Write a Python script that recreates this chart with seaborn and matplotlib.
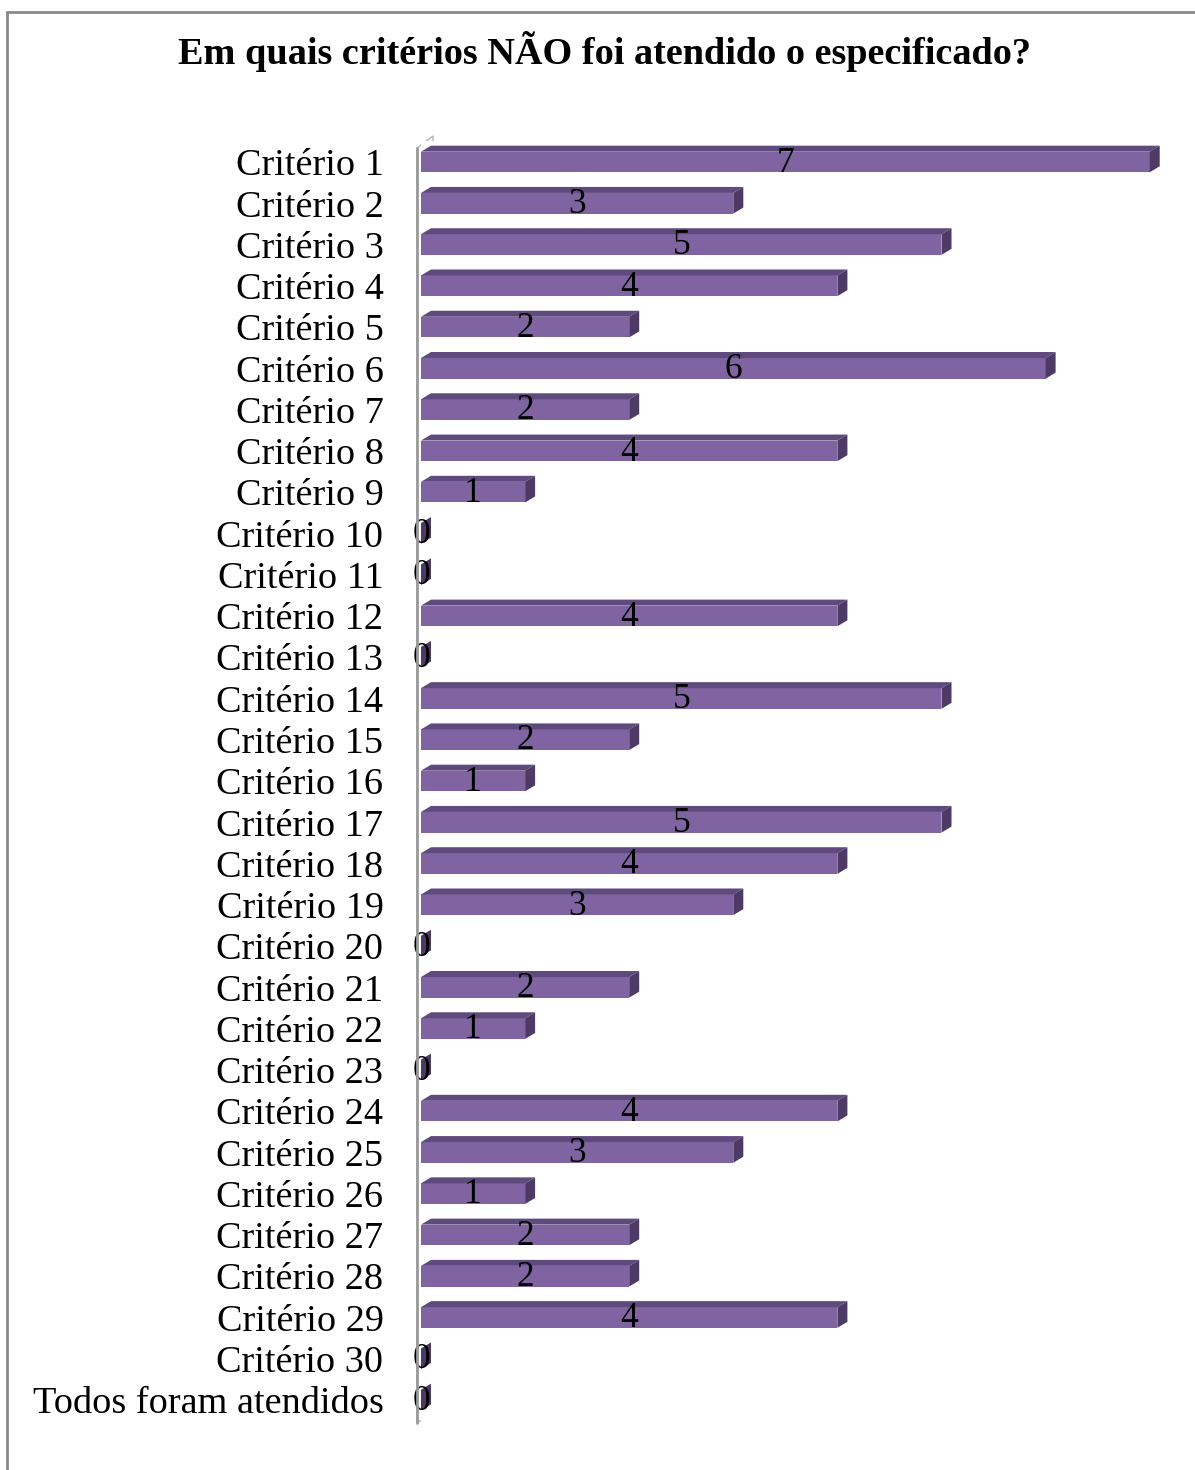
import matplotlib
matplotlib.use("Agg")
import matplotlib.pyplot as plt
from matplotlib.patches import Polygon, Rectangle
from matplotlib.lines import Line2D
import seaborn as sns
import pandas as pd

# data
criterios = [f"Critério {i}" for i in range(1, 31)] + ["Todos foram atendidos"]
valores = [7, 3, 5, 4, 2, 6, 2, 4, 1, 0,
           0, 4, 0, 5, 2, 1, 5, 4, 3, 0,
           2, 1, 0, 4, 3, 1, 2, 2, 4, 0,
           0]
titulo = "Em quais critérios NÃO foi atendido o especificado?"

df = pd.DataFrame({"criterio": criterios, "valor": valores})

sns.set_style("white")
plt.rcParams["font.family"] = ["Liberation Serif", "DejaVu Serif"]
plt.rcParams["text.color"] = "black"
plt.rcParams["ytick.color"] = "black"

W, H = 1195, 1470
fig = plt.figure(figsize=(W / 100, H / 100), dpi=100)

# axes placed so that zero sits at x=421px and rows span 162..1400px
x0_px, row_top, row_bot = 421, 162, 1400
step = (row_bot - row_top) / (len(criterios) - 1)
ax_top = row_top - step / 2
ax_bot = row_bot + step / 2
xmax = 7.3
px_per_unit = 104.1
ax = fig.add_axes([x0_px / W, 1 - ax_bot / H,
                   xmax * px_per_unit / W, (ax_bot - ax_top) / H])

front = "#8064A2"
top_c = "#5F4A7E"
side_c = "#4D3B66"

sns.barplot(data=df, y="criterio", x="valor", orient="h", color=front,
            width=0.5, saturation=1, linewidth=0, ax=ax)
ax.set_xlim(0, xmax)
ax.set_ylim(len(criterios) - 0.5, -0.5)

# fake 3D depth: top face and side face on each bar
dx = 10 / px_per_unit
dy = 6 / step
for p in list(ax.patches):
    bx, by = p.get_x(), p.get_y()
    w, h = p.get_width(), p.get_height()
    top, bot = by, by + h
    ax.add_patch(Polygon([(bx, top), (bx + dx, top - dy), (bx + w + dx, top - dy), (bx + w, top)],
                         closed=True, facecolor=top_c, edgecolor="none", zorder=3))
    ax.add_patch(Polygon([(bx + w, top), (bx + w + dx, top - dy), (bx + w + dx, bot - dy), (bx + w, bot)],
                         closed=True, facecolor=side_c, edgecolor="none", zorder=3))

for i, v in enumerate(valores):
    ax.text(v / 2, i + 0.03, str(v), ha="center", va="center", fontsize=25.5,
            color="black", zorder=5)

ax.set_xlabel("")
ax.set_ylabel("")
ax.set_xticks([])
ax.tick_params(axis="y", length=0, pad=27, labelsize=27.5, labelcolor="black")
for s in ax.spines.values():
    s.set_visible(False)

# back wall of the 3D axis
def fx(px):
    return px / W

def fy(py):
    return 1 - py / H

wall = [(417, 1423), (417, 148), (433, 136), (433, 1413)]
fig.add_artist(Polygon([(fx(a), fy(b)) for a, b in wall], closed=True,
                       transform=fig.transFigure, facecolor="none",
                       edgecolor="#BDBDBD", linewidth=1.2, zorder=0))
fig.add_artist(Line2D([fx(417), fx(417)], [fy(1423), fy(148)],
                      transform=fig.transFigure, color="#9A9A9A", linewidth=2))

# outer chart frame
fig.add_artist(Rectangle((fx(7), -0.05), 1.2, fy(12) + 0.05,
                         transform=fig.transFigure, fill=False,
                         edgecolor="#8A8A8A", linewidth=2))

fig.text(fx(605), fy(52), titulo, ha="center", va="center",
         fontsize=27.5, fontweight="bold")

fig.savefig("out.png", dpi=100)
